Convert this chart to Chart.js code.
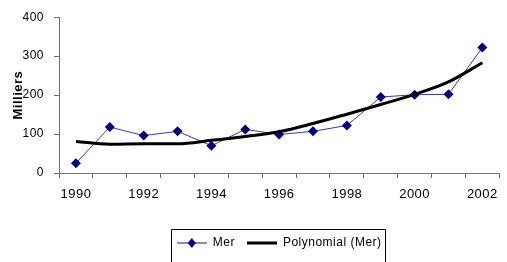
<!DOCTYPE html>
<html><head><meta charset="utf-8">
<script src="https://cdn.jsdelivr.net/npm/chart.js@4.4.1/dist/chart.umd.min.js"></script>
<style>html,body{margin:0;padding:0;background:#fff;overflow:hidden}#wrap{width:507px;height:262px}</style>
</head><body><div id="wrap"><canvas id="c" width="507" height="262"></canvas></div>
<script>
const years = ['1990','1991','1992','1993','1994','1995','1996','1997','1998','1999','2000','2001','2002'];
const merValues = [25, 118, 96, 107, 70, 112, 99, 107, 122, 195, 201, 202, 322];
const trendValues = [81, 74, 75, 75, 84, 94, 106, 127, 151, 176, 202, 234, 283];
const yTickMin = 0, yTickMax = 400, yTickStep = 100;
const seriesNames = ['Mer', 'Polynomial (Mer)'];
const yTitle = 'Milliers';

const FONT = "'Liberation Sans Narrow', 'Arial Narrow', 'Liberation Sans', sans-serif";
Chart.defaults.font.family = FONT;
Chart.defaults.color = '#000';

function symbol(kind) {
  const c = document.createElement('canvas');
  c.width = 30; c.height = 12;
  const g = c.getContext('2d');
  if (kind === 0) {
    g.strokeStyle = '#3b3ba8'; g.lineWidth = 1.2;
    g.beginPath(); g.moveTo(0, 6); g.lineTo(30, 6); g.stroke();
    g.fillStyle = '#000080';
    g.beginPath(); g.moveTo(15, 1); g.lineTo(19, 6); g.lineTo(15, 11); g.lineTo(11, 6); g.closePath(); g.fill();
  } else {
    g.strokeStyle = '#000'; g.lineWidth = 3;
    g.beginPath(); g.moveTo(0, 6); g.lineTo(30, 6); g.stroke();
  }
  return c;
}

const spacingPlugin = {
  id: 'spacing',
  beforeLayout(chart) { chart.ctx.letterSpacing = '0.5px'; },
  beforeDraw(chart) { chart.ctx.letterSpacing = '0.5px'; }
};
const legendBorder = {
  id: 'legendBorder',
  afterDraw(chart) {
    const hb = chart.legend && chart.legend.legendHitBoxes;
    if (!hb || !hb.length) return;
    let l = Infinity, r = -Infinity, t = Infinity;
    hb.forEach(b => { l = Math.min(l, b.left); r = Math.max(r, b.left + b.width); t = Math.min(t, b.top); });
    const ctx = chart.ctx;
    ctx.save();
    ctx.strokeStyle = '#000'; ctx.lineWidth = 1;
    ctx.beginPath();
    ctx.moveTo(Math.round(l - 6) + 0.5, chart.height + 2);
    ctx.lineTo(Math.round(l - 6) + 0.5, Math.round(t - 8) + 0.5);
    ctx.lineTo(Math.round(r + 3) + 0.5, Math.round(t - 8) + 0.5);
    ctx.lineTo(Math.round(r + 3) + 0.5, chart.height + 2);
    ctx.stroke();
    ctx.restore();
  }
};

new Chart(document.getElementById('c'), {
  type: 'line',
  data: {
    labels: years,
    datasets: [
      { label: seriesNames[0], data: merValues, borderColor: '#3b3ba8', borderWidth: 1,
        pointStyle: 'rectRot', pointRadius: 5, pointBackgroundColor: '#000080', pointBorderColor: '#000080',
        pointBorderWidth: 0, tension: 0, order: 2 },
      { label: seriesNames[1], data: trendValues, borderColor: '#000', borderWidth: 3,
        pointRadius: 0, tension: 0.4, cubicInterpolationMode: 'monotone', order: 1 }
    ]
  },
  options: {
    responsive: false,
    animation: false,
    layout: { padding: { top: 17, left: 0, right: 0, bottom: 3 } },
    plugins: {
      tooltip: { enabled: false },
      legend: {
        position: 'bottom', fullSize: false,
        labels: {
          usePointStyle: true, pointStyleWidth: 30, boxHeight: 10, padding: 12,
          font: { size: 12 }, color: '#000',
          generateLabels() {
            return seriesNames.map((n, i) => ({ text: n, pointStyle: symbol(i), fillStyle: '#000', strokeStyle: '#000', lineWidth: 0, hidden: false, datasetIndex: i, fontColor: '#000' }));
          }
        }
      }
    },
    scales: {
      x: {
        type: 'category', offset: true,
        grid: { offset: true, drawOnChartArea: false, drawTicks: true, tickLength: 5, color: '#707070' },
        border: { display: true, color: '#707070' },
        ticks: { autoSkip: false, maxRotation: 0, minRotation: 0, padding: 9, font: { size: 13 },
          callback(v, i) { return i % 2 === 0 ? this.getLabelForValue(v) : ''; } },
        afterFit(s) { s.height = 52; }
      },
      y: {
        min: yTickMin, max: yTickMax,
        ticks: { stepSize: yTickStep, padding: 10, font: { size: 12 } },
        grid: { drawOnChartArea: false, drawTicks: true, tickLength: 5, color: '#707070' },
        border: { display: true, color: '#707070' },
        title: { display: true, text: yTitle, font: { size: 13, weight: 'bold' }, padding: { top: 11, bottom: 0 } },
        afterFit(s) { s.width = 59; }
      }
    }
  },
  plugins: [spacingPlugin, legendBorder]
});
</script></body></html>
